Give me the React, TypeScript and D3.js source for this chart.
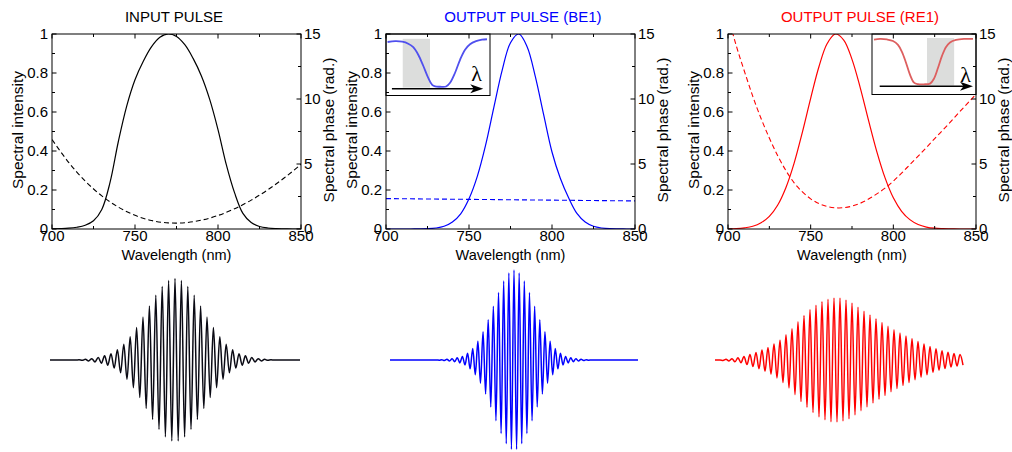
import React from "react";
import * as d3 from "d3";

// ---------------- DATA ----------------
const wavelengths = [700, 705, 710, 715, 720, 725, 730, 735, 740, 745, 750, 755, 760, 765, 770, 775, 780, 785, 790, 795, 800, 805, 810, 815, 820, 825, 830, 835, 840, 845, 850];

const inputIntensity = [0.001, 0.002, 0.004, 0.009, 0.019, 0.042, 0.1, 0.24, 0.45, 0.63, 0.765, 0.86, 0.935, 0.983, 1.0, 0.987, 0.945, 0.875, 0.785, 0.665, 0.51, 0.33, 0.185, 0.08, 0.033, 0.013, 0.005, 0.002, 0.001, 0, 0];
const be1Intensity = [0, 0, 0, 0, 0.0005, 0.0015, 0.005, 0.014, 0.036, 0.078, 0.155, 0.27, 0.43, 0.625, 0.815, 0.955, 1.0, 0.935, 0.78, 0.585, 0.395, 0.26, 0.16, 0.08, 0.036, 0.014, 0.005, 0.0015, 0.0005, 0, 0];
const re1Intensity = [0.001, 0.002, 0.006, 0.014, 0.032, 0.065, 0.122, 0.212, 0.338, 0.497, 0.67, 0.832, 0.951, 1.0, 0.969, 0.87, 0.724, 0.557, 0.397, 0.262, 0.16, 0.091, 0.048, 0.023, 0.01, 0.004, 0.002, 0.001, 0, 0, 0];

const inputPhaseWavelengths = [700, 710, 720, 730, 740, 750, 760, 770, 780, 790, 800, 810, 820, 830, 840, 850];
const inputPhase = [6.88, 5.13, 3.69, 2.55, 1.68, 1.05, 0.65, 0.47, 0.48, 0.68, 1.04, 1.56, 2.22, 3.02, 3.94, 4.97];
const be1PhaseWavelengths = [700, 725, 750, 775, 800, 825, 850];
const be1Phase = [2.34, 2.31, 2.28, 2.25, 2.22, 2.19, 2.16];
const re1Phase = [16.4, 14.1, 12.1, 10.2, 8.5, 7.0, 5.65, 4.5, 3.55, 2.85, 2.32, 1.95, 1.73, 1.63, 1.64, 1.76, 1.98, 2.3, 2.7, 3.14, 3.68, 4.3, 4.95, 5.6, 6.27, 6.95, 7.62, 8.3, 9.0, 9.68, 10.38];

const wavelengthTicks = [700, 750, 800, 850];
const wavelengthMinorTicks = [725, 775, 825];
const intensityTicks = [0, 0.2, 0.4, 0.6, 0.8, 1];
const intensityTickLabels = ["0", "0.2", "0.4", "0.6", "0.8", "1"];
const intensityMinorTicks = [0.1, 0.3, 0.5, 0.7, 0.9];
const phaseTicks = [0, 5, 10, 15];
const phaseMinorTicks = [2.5, 7.5, 12.5];

// filter insets (normalised 0-100 inset units)
const be1InsetU = [1.5, 8.9, 15.6, 21.4, 26.2, 31.0, 35.8, 40.6, 44.4, 47.3, 52.1, 57.8, 61.6, 66.4, 71.2, 76.0, 80.8, 86.6, 92.3, 97.1];
const be1InsetV = [13, 11.7, 12.5, 15.8, 21.5, 33.7, 51.6, 71.2, 82.6, 85.3, 85.8, 85.3, 79.3, 63.0, 41.9, 25.6, 16.6, 11.7, 9.3, 8.5];
const be1InsetBand = [16.1, 42.3];
const re1InsetU = [1.9, 7.7, 14.4, 20.2, 25.0, 28.8, 32.7, 36.5, 40.4, 44.2, 50.0, 55.8, 59.6, 63.5, 67.3, 71.2, 75.0, 80.8, 88.5, 97.1];
const re1InsetV = [9.3, 8.2, 9.0, 11.5, 18.0, 29.5, 47.5, 67.2, 80.3, 82.8, 83.1, 82.0, 73.8, 55.7, 36.1, 21.3, 13.9, 9.8, 8.2, 8.2];
const re1InsetBand = [52.9, 79.0];

// temporal pulses: amplitude of successive extrema
const inputPulseExtrema = [0.002, 0.004, 0.007, 0.011, 0.015, 0.021, 0.028, 0.036, 0.046, 0.058, 0.07, 0.09, 0.114, 0.142, 0.176, 0.214, 0.258, 0.307, 0.36, 0.417, 0.477, 0.539, 0.601, 0.661, 0.719, 0.771, 0.817, 0.854, 0.882, 0.899, 0.905, 0.899, 0.882, 0.854, 0.817, 0.771, 0.719, 0.661, 0.601, 0.539, 0.477, 0.417, 0.36, 0.307, 0.258, 0.214, 0.176, 0.142, 0.114, 0.09, 0.07, 0.058, 0.046, 0.036, 0.028, 0.021, 0.015, 0.011, 0.007, 0.004, 0.002];
const be1PulseExtrema = [0.001, 0.002, 0.004, 0.006, 0.008, 0.011, 0.015, 0.019, 0.025, 0.032, 0.04, 0.055, 0.074, 0.098, 0.128, 0.164, 0.207, 0.257, 0.315, 0.378, 0.448, 0.522, 0.598, 0.674, 0.749, 0.818, 0.879, 0.93, 0.968, 0.992, 1.0, 0.992, 0.968, 0.93, 0.879, 0.818, 0.749, 0.674, 0.598, 0.522, 0.448, 0.378, 0.315, 0.257, 0.207, 0.164, 0.128, 0.098, 0.074, 0.055, 0.04, 0.032, 0.025, 0.019, 0.015, 0.011, 0.008, 0.006, 0.004, 0.002, 0.001];
const re1PulseExtrema = [0.005, 0.008, 0.011, 0.015, 0.02, 0.025, 0.031, 0.04, 0.05, 0.06, 0.072, 0.084, 0.096, 0.11, 0.125, 0.14, 0.157, 0.178, 0.199, 0.22, 0.25, 0.28, 0.31, 0.346, 0.385, 0.424, 0.461, 0.494, 0.527, 0.56, 0.584, 0.608, 0.632, 0.649, 0.663, 0.676, 0.686, 0.688, 0.689, 0.69, 0.678, 0.666, 0.654, 0.634, 0.61, 0.586, 0.563, 0.542, 0.521, 0.5, 0.479, 0.458, 0.437, 0.416, 0.395, 0.374, 0.354, 0.336, 0.318, 0.3, 0.284, 0.267, 0.251, 0.235, 0.22, 0.205, 0.19, 0.177, 0.163, 0.15, 0.138, 0.126, 0.114, 0.104, 0.095, 0.086, 0.077, 0.071, 0.066, 0.06, 0.056];

// ---------------- LAYOUT ----------------
const FONT = "'Liberation Sans', Arial, Helvetica, sans-serif";
const PLOT_TOP = 34;
const PLOT_BOTTOM = 229;
const PULSE_Y = 360;

type InsetSpec = {
  x0: number; y0: number; w: number; h: number;
  u: number[]; v: number[]; band: number[]; bandV: number[];
  color: string; arrow: number[]; arrowV: number; lambdaU: number; lambdaV: number;
};

function Inset({ s }: { s: InsetSpec }) {
  const xu = d3.scaleLinear().domain([0, 100]).range([s.x0, s.x0 + s.w]);
  const yv = d3.scaleLinear().domain([0, 100]).range([s.y0, s.y0 + s.h]);
  const curve = d3.line<number>().x((d) => xu(d)).y((d, i) => yv(s.v[i])).curve(d3.curveCatmullRom)(s.u) || "";
  const ay = yv(s.arrowV);
  const tipX = xu(s.arrow[1]);
  return (
    <g>
      <rect x={s.x0} y={s.y0} width={s.w} height={s.h} fill="#ffffff" stroke="#000" strokeWidth={1} />
      <rect x={xu(s.band[0])} y={yv(s.bandV[0])} width={xu(s.band[1]) - xu(s.band[0])} height={yv(s.bandV[1]) - yv(s.bandV[0])} fill="#dcdddc" />
      <path d={curve} fill="none" stroke={s.color} strokeWidth={1.8} />
      <line x1={xu(s.arrow[0])} x2={tipX - 6} y1={ay} y2={ay} stroke="#000" strokeWidth={1.5} />
      <path d={`M${tipX},${ay} L${tipX - 13},${ay - 4.5} L${tipX - 9.5},${ay} L${tipX - 13},${ay + 4.5} Z`} fill="#000" />
      <text x={xu(s.lambdaU)} y={yv(s.lambdaV)} textAnchor="middle" fontSize={22} fontFamily="'Liberation Serif', 'Times New Roman', serif" fill="#000">λ</text>
    </g>
  );
}

type PanelSpec = {
  id: string; left: number; right: number; title: string; titleX: number; color: string;
  intensity: number[]; phaseX: number[]; phase: number[]; inset?: InsetSpec;
};

function Panel({ p }: { p: PanelSpec }) {
  const x = d3.scaleLinear().domain([700, 850]).range([p.left, p.right]);
  const yI = d3.scaleLinear().domain([0, 1]).range([PLOT_BOTTOM, PLOT_TOP]);
  const yP = d3.scaleLinear().domain([0, 15]).range([PLOT_BOTTOM, PLOT_TOP]);
  const solid = d3.line<number>().x((d, i) => x(wavelengths[i])).y((d) => yI(d)).curve(d3.curveCatmullRom.alpha(0.5))(p.intensity) || "";
  const dashed = d3.line<number>().x((d, i) => x(p.phaseX[i])).y((d) => yP(d)).curve(d3.curveNatural)(p.phase) || "";
  const midX = (p.left + p.right) / 2;
  const midY = 130;
  const tk = 4.5;
  const tkm = 3;
  return (
    <g fontFamily={FONT}>
      <defs>
        <clipPath id={p.id}>
          <rect x={p.left} y={PLOT_TOP} width={p.right - p.left} height={PLOT_BOTTOM - PLOT_TOP} />
        </clipPath>
      </defs>
      <text x={p.titleX} y={22} textAnchor="middle" fontSize={15} fill={p.color}>{p.title}</text>
      <g clipPath={`url(#${p.id})`}>
        <path d={dashed} fill="none" stroke={p.color} strokeWidth={1.1} strokeDasharray="5,3" />
        <path d={solid} fill="none" stroke={p.color} strokeWidth={1.2} />
      </g>
      {p.inset && <Inset s={p.inset} />}
      <rect x={p.left} y={PLOT_TOP} width={p.right - p.left} height={PLOT_BOTTOM - PLOT_TOP} fill="none" stroke="#000" strokeWidth={1} />
      {wavelengthTicks.map((t) => (
        <g key={"wt" + t}>
          <line x1={x(t)} x2={x(t)} y1={PLOT_BOTTOM} y2={PLOT_BOTTOM - tk} stroke="#000" />
          <line x1={x(t)} x2={x(t)} y1={PLOT_TOP} y2={PLOT_TOP + tk} stroke="#000" />
          <text x={x(t)} y={241} textAnchor="middle" fontSize={15}>{t}</text>
        </g>
      ))}
      {wavelengthMinorTicks.map((t) => (
        <g key={"wm" + t}>
          <line x1={x(t)} x2={x(t)} y1={PLOT_BOTTOM} y2={PLOT_BOTTOM - tkm} stroke="#000" />
          <line x1={x(t)} x2={x(t)} y1={PLOT_TOP} y2={PLOT_TOP + tkm} stroke="#000" />
        </g>
      ))}
      {intensityTicks.map((t, i) => (
        <g key={"it" + t}>
          <line x1={p.left} x2={p.left + tk} y1={yI(t)} y2={yI(t)} stroke="#000" />
          <text x={p.left - 4} y={yI(t)} dy="0.36em" textAnchor="end" fontSize={15}>{intensityTickLabels[i]}</text>
        </g>
      ))}
      {intensityMinorTicks.map((t) => (
        <line key={"im" + t} x1={p.left} x2={p.left + tkm} y1={yI(t)} y2={yI(t)} stroke="#000" />
      ))}
      {phaseTicks.map((t) => (
        <g key={"pt" + t}>
          <line x1={p.right} x2={p.right - tk} y1={yP(t)} y2={yP(t)} stroke="#000" />
          <text x={p.right + 3} y={yP(t)} dy="0.36em" textAnchor="start" fontSize={15}>{t}</text>
        </g>
      ))}
      {phaseMinorTicks.map((t) => (
        <line key={"pm" + t} x1={p.right} x2={p.right - tkm} y1={yP(t)} y2={yP(t)} stroke="#000" />
      ))}
      <text x={midX} y={260} textAnchor="middle" fontSize={14.5}>Wavelength (nm)</text>
      <text transform={`translate(${p.left - 29},${midY}) rotate(-90)`} textAnchor="middle" fontSize={15.5}>Spectral intensity</text>
      <text transform={`translate(${p.right + 33},${midY}) rotate(-90)`} textAnchor="middle" fontSize={15.5}>Spectral phase (rad.)</text>
    </g>
  );
}

type PulseSpec = {
  x0: number; x1: number; color: string; amps: number[]; tStart: number; step: number;
  startSign: number; endAtBaseline: boolean;
};

function Pulse({ s }: { s: PulseSpec }) {
  const t = d3.scaleLinear().domain([-125, 125]).range([s.x0, s.x1]);
  const y = d3.scaleLinear().domain([-1, 1]).range([PULSE_Y + 90, PULSE_Y - 90]);
  const pts: [number, number][] = [[-125, 0], [s.tStart - s.step, 0]];
  s.amps.forEach((a, i) => {
    pts.push([s.tStart + i * s.step, (i % 2 === 0 ? s.startSign : -s.startSign) * a]);
  });
  if (s.endAtBaseline) {
    pts.push([s.tStart + s.amps.length * s.step, 0]);
    pts.push([125, 0]);
  }
  const d = d3.line<[number, number]>().x((p) => t(p[0])).y((p) => y(p[1])).curve(d3.curveMonotoneX)(pts) || "";
  return <path d={d} fill="none" stroke={s.color} strokeWidth={1.5} />;
}

export default function App() {
  const panels: PanelSpec[] = [
    { id: "clipA", left: 52, right: 301, title: "INPUT PULSE", titleX: 174, color: "#000000", intensity: inputIntensity, phaseX: inputPhaseWavelengths, phase: inputPhase },
    {
      id: "clipB", left: 386, right: 635, title: "OUTPUT PULSE (BE1)", titleX: 523, color: "#0000ff", intensity: be1Intensity, phaseX: be1PhaseWavelengths, phase: be1Phase,
      inset: { x0: 386, y0: 34, w: 104, h: 61.5, u: be1InsetU, v: be1InsetV, band: be1InsetBand, bandV: [7.8, 87.1], color: "#5050ee", arrow: [5.7, 93.5], arrowV: 89.1, lambdaU: 87.2, lambdaV: 77 },
    },
    {
      id: "clipC", left: 728, right: 976, title: "OUTPUT PULSE (RE1)", titleX: 860, color: "#ff0000", intensity: re1Intensity, phaseX: wavelengths, phase: re1Phase,
      inset: { x0: 872, y0: 34, w: 104, h: 60.5, u: re1InsetU, v: re1InsetV, band: re1InsetBand, bandV: [6.6, 85.2], color: "#dd5f5f", arrow: [7.4, 97.1], arrowV: 86.5, lambdaU: 89.9, lambdaV: 79 },
    },
  ];
  const pulses: PulseSpec[] = [
    { x0: 50, x1: 300, color: "#0a0a14", amps: inputPulseExtrema, tStart: -96, step: 3.2, startSign: 1, endAtBaseline: true },
    { x0: 390, x1: 638, color: "#0000ff", amps: be1PulseExtrema, tStart: -78, step: 2.6, startSign: 1, endAtBaseline: true },
    { x0: 715, x1: 965, color: "#ff0000", amps: re1PulseExtrema, tStart: -117, step: 3, startSign: -1, endAtBaseline: false },
  ];
  return (
    <svg width={1012} height={452} style={{ position: "absolute", left: 0, top: 0, background: "#fff" }}>
      <rect x={0} y={0} width={1012} height={452} fill="#fff" />
      {panels.map((p) => <Panel key={p.id} p={p} />)}
      {pulses.map((s, i) => <Pulse key={i} s={s} />)}
    </svg>
  );
}
